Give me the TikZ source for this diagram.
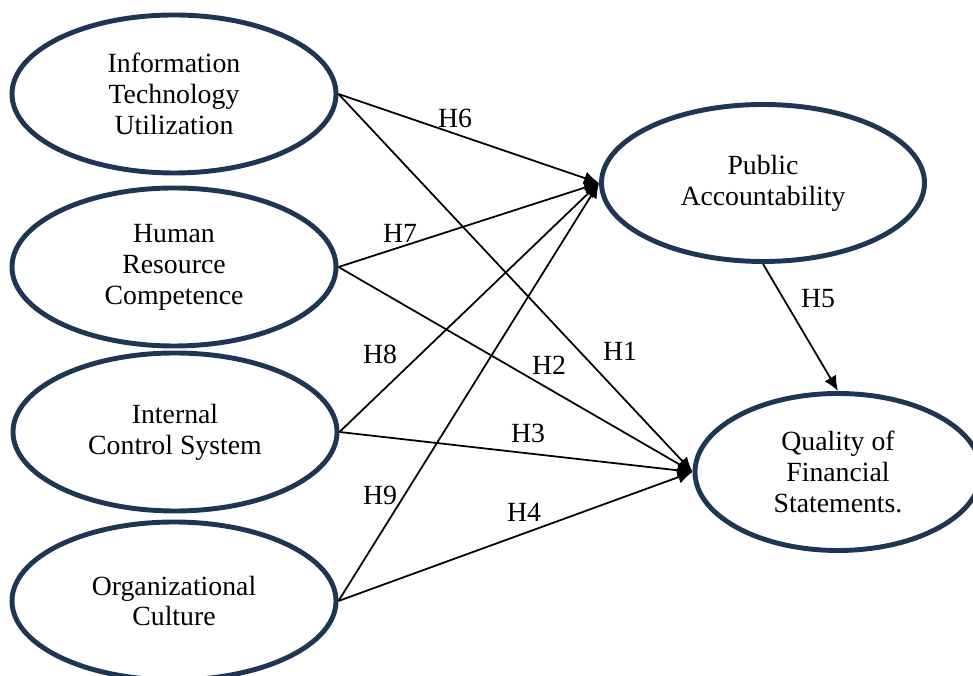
\documentclass[tikz,border=0pt]{standalone}
\usepackage{fontspec}
\setmainfont{Liberation Serif}
\usetikzlibrary{arrows.meta, shapes.geometric}
\definecolor{navyline}{HTML}{1E3556}

\tikzset{
    construct/.style={ellipse, draw=navyline, line width=2.8pt, inner sep=0pt,
        minimum width=6.48cm, minimum height=3.16cm, align=center,
        font=\fontsize{15.8}{17.6}\selectfont},
    path/.style={draw, line width=1pt, -{Latex[length=8.5pt, width=7.5pt]}},
    hyp/.style={font=\fontsize{15.8}{17.6}\selectfont}
}

\begin{document}
\begin{tikzpicture}
                    \useasboundingbox (0,0) rectangle (19.46,13.52);

                    %independent variables
                    \node[construct] (itu) at (3.48,11.64) {Information\\Technology\\Utilization};
                    \node[construct] (hrc) at (3.48,8.18) {Human\\Resource\\Competence};
                    \node[construct] (ics) at (3.50,4.88) {Internal\\Control System};
                    \node[construct] (orc) at (3.48,1.50) {Organizational\\Culture};

                    %mediator and outcome
                    \node[construct, minimum width=6.46cm, minimum height=3.14cm] (pac) at (15.26,9.86) {Public\\Accountability};
                    \node[construct, minimum width=5.72cm, minimum height=3.14cm] (qfs) at (16.76,4.08) {Quality of\\Financial\\Statements.};

                    %paths to public accountability
                    \draw[path] (itu.east) -- (pac.west);
                    \draw[path] (hrc.east) -- (pac.west);
                    \draw[path] (ics.east) -- (pac.west);
                    \draw[path] (orc.east) -- (pac.west);

                    %paths to quality of financial statements
                    \draw[path] (itu.east) -- (qfs.west);
                    \draw[path] (hrc.east) -- (qfs.west);
                    \draw[path] (ics.east) -- (qfs.west);
                    \draw[path] (orc.east) -- (qfs.west);
                    \draw[path] (pac.south) -- (qfs.north);

                    %hypotheses
                    \node[hyp] (h1) at (12.40,6.50) {H1};
                    \node[hyp] (h2) at (10.98,6.22) {H2};
                    \node[hyp] (h3) at (10.56,4.86) {H3};
                    \node[hyp] (h4) at (10.48,3.28) {H4};
                    \node[hyp] (h5) at (16.36,7.54) {H5};
                    \node[hyp] (h6) at (9.10,11.16) {H6};
                    \node[hyp] (h7) at (8.00,8.86) {H7};
                    \node[hyp] (h8) at (7.60,6.44) {H8};
                    \node[hyp] (h9) at (7.60,3.62) {H9};

\end{tikzpicture}
\end{document}
